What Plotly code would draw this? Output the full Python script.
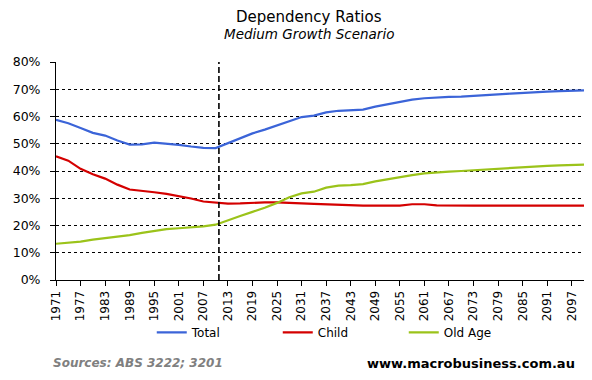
import plotly.graph_objects as go

years = [1971, 1974, 1977, 1980, 1983, 1986, 1989, 1992, 1995, 1998, 2001, 2004, 2007, 2010,
         2013, 2016, 2019, 2022, 2025, 2028, 2031, 2034, 2037, 2040, 2043, 2046, 2049, 2052,
         2055, 2058, 2061, 2064, 2067, 2070, 2073, 2076, 2079, 2082, 2085, 2088, 2091, 2094,
         2097, 2101]

total = [58.8, 57.5, 55.8, 54.0, 53.0, 51.2, 49.7, 49.8, 50.4, 50.1, 49.6, 49.0, 48.5, 48.4,
         50.2, 52.0, 53.8, 55.2, 56.8, 58.2, 59.8, 60.3, 61.5, 62.1, 62.2, 62.5, 63.6, 64.5,
         65.3, 66.2, 66.7, 67.0, 67.2, 67.3, 67.5, 67.8, 68.1, 68.4, 68.7, 68.9, 69.1, 69.3,
         69.5, 69.6]

child = [45.4, 43.8, 40.8, 38.8, 37.2, 35.0, 33.2, 32.8, 32.2, 31.6, 30.8, 29.9, 28.8, 28.3,
         28.0, 28.1, 28.4, 28.5, 28.5, 28.4, 28.1, 27.9, 27.7, 27.5, 27.3, 27.3, 27.3, 27.3,
         27.3, 27.8, 27.8, 27.4, 27.3, 27.3, 27.3, 27.3, 27.3, 27.3, 27.3, 27.3, 27.3, 27.3,
         27.3, 27.3]

old_age = [13.3, 13.7, 14.1, 14.8, 15.3, 15.8, 16.5, 17.3, 18.1, 18.7, 19.0, 19.3, 19.7, 20.3,
           22.0, 23.5, 25.0, 26.5, 28.3, 30.4, 31.8, 32.4, 33.9, 34.6, 34.8, 35.2, 36.2, 37.0,
           37.8, 38.5, 39.1, 39.5, 39.8, 40.0, 40.3, 40.6, 40.9, 41.2, 41.5, 41.7, 41.9, 42.1,
           42.3, 42.4]

tick_years = list(range(1971, 2098, 6))
y_ticks = [0, 10, 20, 30, 40, 50, 60, 70, 80]
y_tick_labels = [f"{v}%" for v in y_ticks]
projection_start = 2010.8

title_text = "Dependency Ratios"
subtitle_text = "Medium Growth Scenario"
source_text = "Sources: ABS 3222; 3201"
site_text = "www.macrobusiness.com.au"

FONT = "DejaVu Sans"

fig = go.Figure()
series = [("Total", total, "#3B64D8"), ("Child", child, "#D40000"), ("Old Age", old_age, "#9BC31A")]
for name, vals, col in series:
    fig.add_trace(go.Scatter(x=years, y=vals, name=name, mode="lines",
                             line=dict(color=col, width=2.2)))

fig.add_shape(type="line", x0=projection_start, x1=projection_start, xref="x",
              y0=0, y1=1, yref="paper", line=dict(color="black", width=1.6, dash="6px,3px"))

fig.update_layout(
    width=592, height=380,
    margin=dict(l=48, r=9, t=54, b=108),
    paper_bgcolor="white", plot_bgcolor="white",
    font=dict(family=FONT, size=12, color="black"),
    showlegend=True,
    legend=dict(orientation="h", x=0.179, y=-0.24, xanchor="left", yanchor="middle",
                font=dict(size=12), entrywidth=81, entrywidthmode="pixels",
                bgcolor="rgba(0,0,0,0)"),
    xaxis=dict(range=[1971, 2101.7], tickvals=tick_years, ticktext=[str(t) for t in tick_years],
               tickangle=-90, ticks="outside", ticklen=5, tickcolor="black",
               showline=True, linecolor="black", linewidth=1, showgrid=False,
               zeroline=False, tickfont=dict(size=12), automargin=False),
    yaxis=dict(range=[0, 80], tickvals=y_ticks, ticktext=y_tick_labels, ticks="outside",
               ticklen=5, tickcolor="black", showline=True, linecolor="black", linewidth=1,
               showgrid=True, gridcolor="black", gridwidth=1, griddash="3px,3px",
               zeroline=False, tickfont=dict(size=12.5), ticklabelstandoff=7,
               automargin=False),
)

fig.add_annotation(text=title_text, xref="paper", yref="paper", x=0.472, y=1.207,
                   showarrow=False, xanchor="center", yanchor="middle",
                   font=dict(size=15, color="black"))
fig.add_annotation(text=subtitle_text, xref="paper", yref="paper", x=0.472, y=1.128,
                   showarrow=False, xanchor="center", yanchor="middle",
                   font=dict(size=13.5, color="black", style="italic"))
fig.add_annotation(text=source_text, xref="paper", yref="paper", x=-0.01, y=-0.382,
                   showarrow=False, xanchor="left", yanchor="middle",
                   font=dict(size=12, color="#808080", style="italic", weight="bold"))
fig.add_annotation(text=site_text, xref="paper", yref="paper", x=0.973, y=-0.382,
                   showarrow=False, xanchor="right", yanchor="middle",
                   font=dict(size=13, color="black", weight="bold"))

fig.write_html("out.html")
